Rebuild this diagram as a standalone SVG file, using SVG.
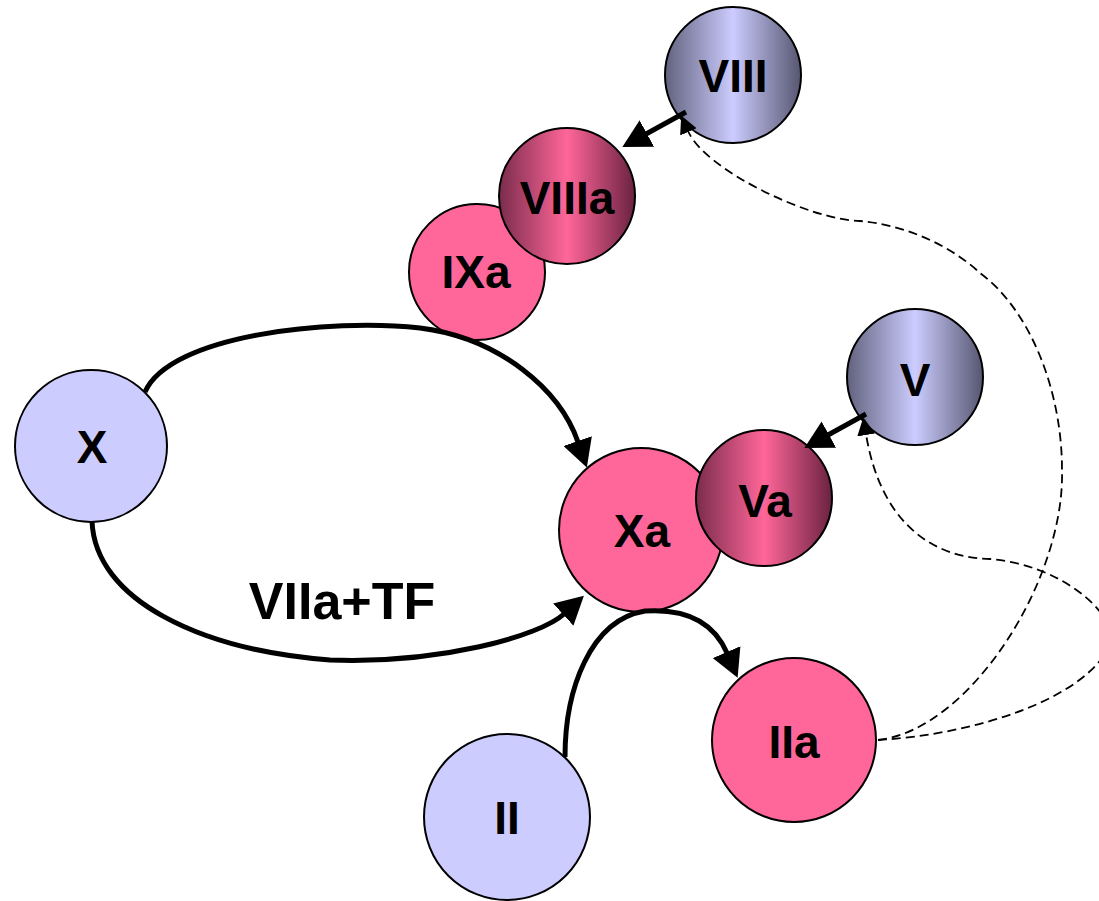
<svg xmlns="http://www.w3.org/2000/svg" width="1099" height="901" viewBox="0 0 1099 901">
  <style>
    .node { stroke: #000; stroke-width: 2; }
    .plain-blue { fill: #ccccff; }
    .plain-pink { fill: #ff6699; }
    .lbl { font-family: "Liberation Sans", Arial, sans-serif; font-weight: bold; font-size: 46px; text-anchor: middle; fill: #000; }
    .solid { fill: none; stroke: #000; stroke-width: 5; }
    .dashed { fill: none; stroke: #000; stroke-width: 1.8; stroke-dasharray: 9 5; }
  </style>
  <defs>
    <linearGradient id="metalBlue" x1="0" y1="0" x2="1" y2="0">
      <stop offset="0" stop-color="#62627e"/>
      <stop offset="0.5" stop-color="#ccccff"/>
      <stop offset="1" stop-color="#565670"/>
    </linearGradient>
    <linearGradient id="metalPink" x1="0" y1="0" x2="1" y2="0">
      <stop offset="0" stop-color="#7a2c4c"/>
      <stop offset="0.5" stop-color="#ff6699"/>
      <stop offset="1" stop-color="#6a2240"/>
    </linearGradient>
    <marker id="head" viewBox="0 0 28 30" refX="1" refY="15" markerWidth="28" markerHeight="30" markerUnits="userSpaceOnUse" orient="auto">
      <path d="M0,0 L28,15 L0,30 z" fill="#000"/>
    </marker>
    <marker id="smallHead" viewBox="0 0 18 18" refX="1" refY="9" markerWidth="18" markerHeight="18" markerUnits="userSpaceOnUse" orient="auto">
      <path d="M0,0 L18,9 L0,18 z" fill="#000"/>
    </marker>
  </defs>

  <!-- nodes -->
  <g id="node-X"><circle class="node plain-blue" cx="91" cy="446" r="76"/><text class="lbl" x="92" y="463">X</text></g>
  <g id="node-II"><circle class="node plain-blue" cx="507" cy="817" r="83"/><text class="lbl" x="507" y="834">II</text></g>
  <g id="node-IIa"><circle class="node plain-pink" cx="794" cy="740" r="82"/><text class="lbl" x="794" y="758">IIa</text></g>
  <g id="node-IXa"><circle class="node plain-pink" cx="477" cy="272" r="68"/><text class="lbl" x="476" y="288">IXa</text></g>
  <g id="node-VIIIa"><circle class="node" fill="url(#metalPink)" cx="567" cy="196" r="68"/><text class="lbl" x="567" y="214">VIIIa</text></g>
  <g id="node-VIII"><circle class="node" fill="url(#metalBlue)" cx="733" cy="75" r="68"/><text class="lbl" x="733" y="92">VIII</text></g>
  <g id="node-V"><circle class="node" fill="url(#metalBlue)" cx="915" cy="377" r="68"/><text class="lbl" x="915" y="396">V</text></g>
  <g id="node-Xa"><circle class="node plain-pink" cx="641" cy="530" r="82"/><text class="lbl" x="642" y="547">Xa</text></g>
  <g id="node-Va"><circle class="node" fill="url(#metalPink)" cx="764" cy="498" r="68"/><text class="lbl" x="765" y="517">Va</text></g>

  <!-- connectors -->
  <g id="connectors">
    <path class="solid" d="M145,392 C170,335 330,318 420,328 C500,338 560,390 578,442" marker-end="url(#head)"/>
    <path class="solid" d="M92,521 C95,600 200,650 330,660 C440,664 540,636 564,614" marker-end="url(#head)"/>
    <text class="lbl" x="342" y="619" style="font-size:52px">VIIa+TF</text>
    <path class="solid" d="M565,757 C565,690 590,620 645,611 C690,608 715,625 727,653" marker-end="url(#head)"/>
    <path class="solid" d="M686,112 L646,134" marker-end="url(#head)"/>
    <path class="solid" d="M866,414 L828,435" marker-end="url(#head)"/>
    <path class="dashed" d="M878,740 C970,730 1065,580 1062,470 C1062,390 1030,310 980,273 C950,245 905,225 860,221 C810,220 705,170 688,131" marker-end="url(#smallHead)"/>
    <path class="dashed" d="M878,740 C970,735 1090,700 1112,640 C1112,610 1060,565 990,559 C930,558 880,520 866,434" marker-end="url(#smallHead)"/>
  </g>
</svg>
